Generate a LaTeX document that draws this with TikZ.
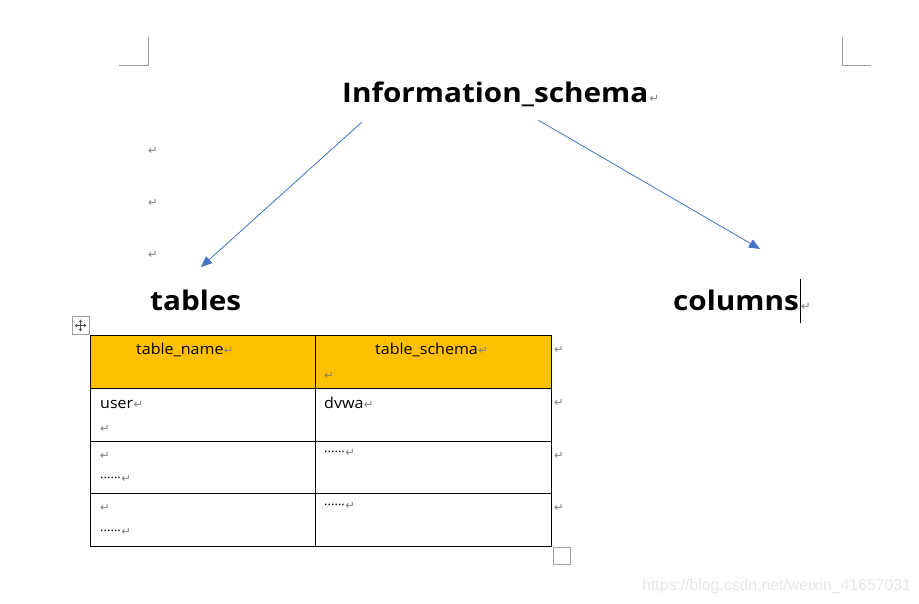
\documentclass[tikz,border=0pt]{standalone}
\usepackage{fontspec}
\setmainfont{Open Sans}
\newfontfamily\widefont[FakeStretch=1.1]{Open Sans}
\newfontfamily\cellfont[FakeStretch=1.07]{Open Sans}
\newfontfamily\djfont{DejaVu Sans}
\newfontfamily\wmfont{Liberation Sans}
\usetikzlibrary{arrows.meta}
\definecolor{markgray}{HTML}{9E9E9E}
\definecolor{retgray}{HTML}{7F7F7F}
\definecolor{arrowblue}{HTML}{4472C4}
\definecolor{headfill}{HTML}{FFC000}
\definecolor{wmgray}{HTML}{E6E6E6}
\tikzset{
  title/.style={anchor=base west, inner sep=0pt, font=\widefont\bfseries\fontsize{27}{30}\selectfont},
  cell/.style={anchor=base west, inner sep=0pt, font=\cellfont\fontsize{15}{16}\selectfont},
  ret/.style={anchor=base west, inner sep=0pt, font=\djfont\fontsize{11.5}{12}\selectfont, text=retgray},
  dots/.style={anchor=base west, inner sep=0pt, font=\fontsize{13}{13}\selectfont},
  link/.style={draw=arrowblue, line width=0.8pt, -{Triangle[length=11pt,width=9pt]}},
  cornermark/.style={draw=markgray, line width=1pt},
  grid/.style={draw=black, line width=0.9pt}
}
\begin{document}
\begin{tikzpicture}[x=1pt,y=-1pt]
\useasboundingbox (0,0) rectangle (919,604);
% corner marks
\draw[cornermark] (148,37) -- (148,66) -- (119,66);
\draw[cornermark] (842,37) -- (842,66) -- (871,66);
% titles
\node[title] (info) at (342,103) {Information\_schema};
\node[ret, xshift=1pt] (infor) at (info.base east) {↵};
\node[ret] (r1) at (148,155) {↵};
\node[ret] (r2) at (148,207) {↵};
\node[ret] (r3) at (148,259) {↵};
\node[title] (tables) at (150,311) {tables};
\node[title] (columns) at (673,311) {columns};
\node[ret] (colr) at (801,311) {↵};
\draw[black, line width=0.9pt] (800,279) -- (800,323);
% arrows
\coordinate (a1s) at (362,122);
\coordinate (a1e) at (201,267);
\coordinate (a2s) at (538,120);
\coordinate (a2e) at (760,249);
\draw[link] (a1s) -- (a1e);
\draw[link] (a2s) -- (a2e);
% table
\fill[headfill] (90,335) rectangle (551,388);
\draw[grid] (90,335) rectangle (551,546);
\draw[grid] (315,335) -- (315,546);
\draw[grid] (90,388) -- (551,388);
\draw[grid] (90,441) -- (551,441);
\draw[grid] (90,493) -- (551,493);
% header
\node[cell] (h1) at (136,355) {table\_name};
\node[ret, anchor=base west] at (h1.base east) {↵};
\node[cell] (h2) at (375,355) {table\_schema};
\node[ret, anchor=base west] at (h2.base east) {↵};
\node[ret] (h2r) at (324,379) {↵};
% row 1
\node[cell] (c11) at (100,408) {user};
\node[ret, anchor=base west] at (c11.base east) {↵};
\node[ret] (c11r) at (100,432) {↵};
\node[cell] (c12) at (324,408) {dvwa};
\node[ret, anchor=base west] at (c12.base east) {↵};
% row 2
\node[ret] (c21r) at (100,459) {↵};
\node[dots] (c21) at (100,482) {······};
\node[ret, anchor=base west] at (c21.base east) {↵};
\node[dots] (c22) at (324,456) {······};
\node[ret, anchor=base west] at (c22.base east) {↵};
% row 3
\node[ret] (c31r) at (100,511) {↵};
\node[dots] (c31) at (100,535) {······};
\node[ret, anchor=base west] at (c31.base east) {↵};
\node[dots] (c32) at (324,509) {······};
\node[ret, anchor=base west] at (c32.base east) {↵};
% row end marks
\node[ret] (e1) at (554,353) {↵};
\node[ret] (e2) at (554,406) {↵};
\node[ret] (e3) at (554,459) {↵};
\node[ret] (e4) at (554,511) {↵};
% move handle
\draw[markgray, line width=1pt, fill=white] (72,317) rectangle (89,334);
\draw[black!70, line width=0.6pt, {Triangle[length=2.5pt,width=3pt]}-{Triangle[length=2.5pt,width=3pt]}] (74.5,325.5) -- (86.5,325.5);
\draw[black!70, line width=0.6pt, {Triangle[length=2.5pt,width=3pt]}-{Triangle[length=2.5pt,width=3pt]}] (80.5,319.5) -- (80.5,331.5);
% resize handle
\draw[markgray, line width=1pt, fill=white] (553,547) rectangle (570,564);
% watermark
\node[anchor=base west, inner sep=0pt, font=\wmfont\fontsize{15.8}{16}\selectfont, text=wmgray] (wm) at (642,590) {https://blog.csdn.net/weixin\_41657031};
\end{tikzpicture}
\end{document}
